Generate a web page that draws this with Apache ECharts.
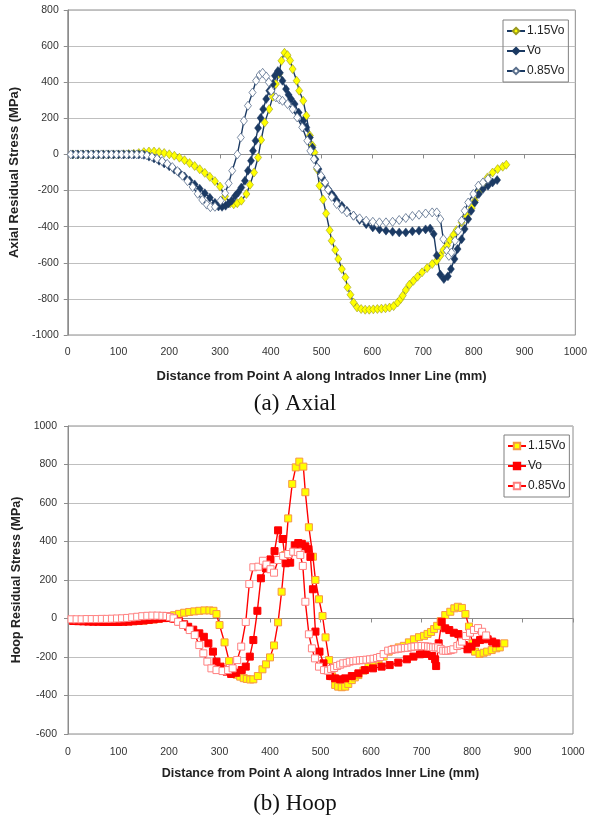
<!DOCTYPE html>
<html>
<head>
<meta charset="utf-8">
<script src="https://cdn.jsdelivr.net/npm/echarts@6/dist/echarts.min.js"></script>
<style>
  body{margin:0;background:#fff;}
  #axial{position:absolute;left:0;top:0;width:590px;height:415px;}
  #hoop{position:absolute;left:0;top:415px;width:590px;height:406px;}
</style>
</head>
<body>
<div id="axial"></div>
<div id="hoop"></div>
<script>
// legend / series names
var seriesNames = ['1.15Vo', 'Vo', '0.85Vo'];

// x axis ticks (mm)
var distTicks = [0, 1000, 100];
// y axis ticks (MPa): min, max, step
var axialTicks = [-1000, 800, 200];
var hoopTicks = [-600, 1000, 200];

// Axial residual stress, [distance mm, stress MPa]
var axial115 = [[10,0],[20,0],[30,0],[40,0],[50,0],[60,0],[70,0],[80,0],[90,0],[100,0],[110,1],[120,2],[130,4],[140,8],[150,13],[160,16],[170,16],[180,13],[190,8],[200,1],[210,-7],[220,-18],[230,-32],[240,-48],[250,-64],[260,-82],[270,-102],[280,-124],[290,-148],[300,-178],[310,-232],[320,-270],[327,-276],[334,-270],[342,-256],[352,-219],[359,-168],[367,-100],[375,-17],[381,80],[388,177],[397,251],[404,320],[410,390],[416,445],[421,519],[427,563],[433,550],[438,520],[443,473],[451,408],[456,353],[464,297],[470,214],[477,105],[482,50],[486,11],[491,-81],[496,-173],[503,-250],[509,-327],[516,-420],[520,-478],[527,-529],[533,-579],[540,-635],[547,-681],[551,-736],[557,-777],[563,-820],[570,-847],[578,-856],[586,-860],[594,-860],[602,-858],[610,-856],[618,-854],[626,-852],[634,-848],[642,-840],[650,-820],[656,-800],[660,-782],[666,-751],[673,-722],[681,-700],[689,-677],[698,-653],[708,-629],[718,-607],[727,-589],[734,-561],[740,-529],[747,-505],[753,-474],[760,-445],[766,-419],[776,-376],[786,-340],[796,-297],[802,-256],[812,-201],[818,-164],[827,-127],[837,-100],[847,-81],[857,-68],[864,-57]];
var axialVo = [[10,0],[20,0],[30,0],[40,0],[50,0],[60,0],[70,0],[80,0],[90,0],[100,0],[110,0],[120,0],[130,0],[140,0],[150,-2],[160,-12],[170,-22],[180,-35],[190,-50],[200,-66],[210,-84],[220,-102],[230,-122],[240,-144],[250,-166],[260,-190],[270,-215],[280,-240],[290,-268],[297,-288],[304,-290],[311,-284],[317,-271],[323,-256],[330,-229],[336,-210],[342,-183],[349,-146],[355,-90],[361,-35],[365,20],[370,76],[375,146],[380,202],[385,251],[391,307],[397,353],[404,390],[408,436],[414,462],[418,452],[423,408],[430,362],[435,330],[440,307],[447,279],[455,232],[464,186],[470,150],[477,94],[482,39],[488,-26],[494,-81],[501,-127],[507,-160],[513,-192],[519,-215],[524,-232],[530,-256],[540,-284],[550,-312],[563,-339],[575,-363],[588,-386],[601,-404],[614,-415],[627,-422],[640,-428],[653,-432],[666,-432],[679,-426],[692,-422],[705,-415],[714,-410],[721,-440],[727,-560],[734,-665],[741,-690],[749,-675],[755,-635],[762,-579],[768,-524],[776,-469],[782,-413],[789,-358],[795,-312],[802,-266],[810,-219],[818,-192],[828,-173],[837,-155],[846,-142]];
var axial085 = [[6,0],[16,0],[26,0],[36,0],[46,0],[56,0],[66,0],[76,0],[86,0],[96,0],[106,0],[116,0],[126,0],[136,0],[146,0],[156,-5],[166,-13],[176,-24],[186,-37],[196,-52],[206,-70],[216,-92],[226,-118],[236,-148],[246,-180],[256,-218],[265,-252],[274,-278],[281,-292],[290,-290],[301,-256],[310,-215],[317,-160],[324,-90],[334,0],[341,94],[347,186],[355,270],[364,343],[371,408],[378,440],[384,452],[391,432],[396,400],[401,353],[410,316],[417,305],[423,297],[433,279],[443,251],[452,205],[462,150],[472,76],[478,20],[485,-26],[491,-72],[499,-118],[507,-155],[513,-195],[520,-235],[530,-275],[540,-302],[550,-321],[563,-339],[575,-354],[588,-367],[601,-373],[614,-376],[627,-376],[640,-373],[653,-363],[666,-352],[679,-341],[692,-334],[705,-327],[718,-321],[727,-321],[734,-358],[740,-469],[747,-533],[751,-562],[756,-543],[763,-478],[769,-422],[776,-367],[782,-312],[789,-266],[799,-219],[809,-173],[818,-155],[828,-136]];

// Hoop residual stress, [distance mm, stress MPa]
var hoop115 = [[10,-8],[20,-10],[30,-11],[40,-12],[50,-13],[60,-14],[70,-15],[80,-15],[90,-16],[100,-16],[110,-16],[120,-15],[130,-14],[140,-13],[150,-11],[160,-8],[170,-5],[180,-1],[190,4],[200,10],[210,17],[220,24],[230,30],[240,34],[250,37],[260,40],[270,42],[280,42],[288,40],[294,23],[300,-34],[310,-124],[319,-221],[327,-276],[334,-292],[341,-302],[348,-310],[354,-314],[361,-317],[367,-316],[376,-299],[385,-264],[392,-238],[400,-202],[408,-140],[416,-20],[423,139],[430,330],[436,520],[444,699],[451,785],[458,815],[466,789],[470,656],[477,474],[485,321],[490,200],[497,100],[504,13],[510,-98],[517,-216],[523,-300],[529,-345],[535,-354],[542,-357],[549,-354],[555,-340],[562,-320],[568,-306],[575,-294],[585,-271],[595,-250],[605,-232],[615,-215],[625,-198],[635,-172],[645,-158],[655,-150],[665,-142],[675,-124],[685,-108],[695,-97],[705,-90],[712,-80],[719,-70],[725,-55],[731,-38],[738,-14],[747,18],[757,35],[765,53],[772,61],[780,55],[787,23],[794,-42],[801,-129],[806,-172],[815,-184],[823,-178],[830,-172],[839,-164],[848,-155],[855,-150],[864,-129]];
var hoopVo = [[10,-13],[20,-14],[30,-15],[40,-16],[50,-17],[60,-17],[70,-18],[80,-18],[90,-18],[100,-18],[110,-17],[120,-16],[130,-14],[140,-12],[150,-10],[160,-7],[170,-4],[180,-1],[190,2],[200,3],[210,-2],[220,-15],[230,-30],[238,-43],[248,-58],[260,-77],[269,-95],[278,-129],[287,-172],[294,-224],[302,-250],[308,-265],[314,-276],[323,-288],[333,-282],[344,-268],[352,-250],[360,-198],[367,-112],[375,40],[382,209],[392,260],[401,307],[409,350],[416,458],[425,413],[431,287],[440,290],[449,380],[456,392],[463,388],[470,375],[476,360],[480,320],[485,152],[490,-68],[498,-172],[506,-233],[511,-268],[519,-299],[529,-311],[539,-316],[549,-311],[562,-299],[575,-285],[588,-268],[604,-259],[621,-250],[637,-242],[654,-229],[671,-212],[684,-198],[697,-186],[710,-184],[721,-195],[727,-212],[729,-247],[734,-129],[740,-17],[747,-51],[755,-60],[764,-74],[773,-81],[778,-103],[784,-138],[791,-160],[799,-146],[808,-126],[816,-112],[823,-103],[831,-108],[840,-120],[848,-129]];
var hoop085 = [[7,-4],[17,-4],[27,-4],[37,-3],[47,-3],[57,-3],[67,-2],[77,-2],[87,-1],[97,0],[107,1],[117,3],[127,6],[137,9],[147,12],[157,14],[167,15],[177,15],[187,14],[195,13],[202,8],[209,1],[218,-17],[228,-34],[241,-60],[251,-86],[260,-138],[268,-181],[276,-224],[284,-259],[294,-268],[306,-273],[317,-268],[326,-259],[335,-216],[343,-146],[352,-18],[359,179],[367,266],[377,269],[386,300],[393,280],[401,256],[408,238],[416,304],[426,325],[436,335],[446,347],[455,345],[460,330],[465,273],[470,87],[477,-82],[483,-155],[489,-207],[497,-250],[507,-268],[515,-271],[521,-262],[527,-257],[533,-247],[539,-240],[545,-233],[552,-230],[558,-224],[565,-221],[571,-219],[578,-217],[584,-216],[591,-214],[598,-212],[605,-209],[612,-205],[618,-200],[625,-185],[634,-167],[641,-163],[648,-160],[654,-157],[660,-155],[667,-153],[673,-152],[680,-149],[686,-146],[693,-144],[700,-143],[707,-144],[713,-146],[718,-148],[723,-150],[728,-150],[733,-150],[738,-158],[743,-167],[748,-168],[753,-167],[758,-164],[763,-160],[771,-143],[776,-135],[780,-120],[788,-91],[796,-74],[804,-60],[812,-50],[820,-69],[828,-88]];

var FONT = 'Liberation Sans';

// plain numbers, no thousands separator (1000, -1000)
function plain(v) { return String(v); }

function makeOption(cfg) {
  return {
    animation: false,
    backgroundColor: '#fff',
    grid: {
      left: cfg.grid[0], top: cfg.grid[1], width: cfg.grid[2], height: cfg.grid[3],
      show: true, borderColor: '#8c8c8c', borderWidth: 1
    },
    legend: {
      orient: 'vertical',
      left: cfg.legendPos[0], top: cfg.legendPos[1],
      data: seriesNames,
      borderColor: '#808080', borderWidth: 1,
      padding: [5, 4, 5, 3],
      itemGap: 8, itemWidth: 18, itemHeight: 8,
      textStyle: { fontFamily: FONT, fontSize: 12, color: '#222', padding: [0, 0, 0, -3] }
    },
    xAxis: {
      type: 'value',
      min: distTicks[0], max: distTicks[1], interval: distTicks[2],
      name: 'Distance from Point A along Intrados Inner Line (mm)',
      nameLocation: 'middle', nameGap: cfg.xNameGap,
      nameTextStyle: { fontFamily: FONT, fontWeight: 'bold', fontSize: cfg.titleSize, color: '#222' },
      axisLine: { show: true, lineStyle: { color: '#8c8c8c' } },
      axisTick: { show: true, length: 4, lineStyle: { color: '#8c8c8c' } },
      axisLabel: { margin: cfg.xLabelMargin, fontFamily: FONT, fontSize: 10.5, color: '#333', formatter: plain },
      splitLine: { show: false }
    },
    yAxis: {
      type: 'value',
      min: cfg.yTicks[0], max: cfg.yTicks[1], interval: cfg.yTicks[2],
      name: cfg.yName,
      nameLocation: 'middle', nameGap: cfg.yNameGap,
      nameTextStyle: { fontFamily: FONT, fontWeight: 'bold', fontSize: cfg.titleSize, color: '#222' },
      axisLine: { show: true, lineStyle: { color: '#8c8c8c' } },
      axisTick: { show: true, length: 4, lineStyle: { color: '#8c8c8c' } },
      axisLabel: { margin: cfg.yLabelMargin, fontFamily: FONT, fontSize: 10.5, color: '#333', formatter: plain },
      splitLine: { show: true, lineStyle: { color: '#bfbfbf', width: 1 } }
    },
    graphic: [{
      type: 'text',
      left: 'center', top: cfg.captionTop,
      style: { text: cfg.caption, font: '23px "Liberation Serif"', fill: '#111' }
    }],
    series: cfg.series
  };
}

function lineSeries(name, data, symbol, size, lineColor, fill, border, bw) {
  return {
    name: name,
    type: 'line',
    data: data,
    symbol: symbol,
    symbolSize: size,
    showAllSymbol: true,
    lineStyle: { color: lineColor, width: 1.4 },
    itemStyle: { color: fill, borderColor: border, borderWidth: bw }
  };
}

var navy = '#1b3a63';
var axialChart = echarts.init(document.getElementById('axial'));
axialChart.setOption(makeOption({
  grid: [67, 10, 515, 325],
  legendPos: [503, 20],
  xNameGap: 35, xLabelMargin: 12,
  yTicks: axialTicks, yName: 'Axial Residual Stress (MPa)', yNameGap: 46, yLabelMargin: 9,
  titleSize: 13,
  caption: '(a) Axial', captionTop: 392,
  series: [
    lineSeries(seriesNames[0], axial115, 'diamond', [7, 9], navy, '#ffff00', '#9a9a20', 0.6),
    lineSeries(seriesNames[1], axialVo, 'diamond', [7, 9], navy, navy, navy, 0.5),
    lineSeries(seriesNames[2], axial085, 'diamond', [7, 9], navy, '#ffffff', '#5a6f8c', 0.8)
  ]
}));

var red = '#ff0000';
var hoopChart = echarts.init(document.getElementById('hoop'));
hoopChart.setOption(makeOption({
  grid: [68, 11, 505, 308],
  legendPos: [504, 20],
  xNameGap: 33, xLabelMargin: 13,
  yTicks: hoopTicks, yName: 'Hoop Residual Stress (MPa)', yNameGap: 42, yLabelMargin: 11,
  titleSize: 12.5,
  caption: '(b) Hoop', captionTop: 377,
  series: [
    lineSeries(seriesNames[0], hoop115, 'rect', 7, red, '#ffff00', '#f79646', 1),
    lineSeries(seriesNames[1], hoopVo, 'rect', 7, red, red, red, 1),
    lineSeries(seriesNames[2], hoop085, 'rect', 7, red, '#ffffff', '#ff8080', 1)
  ]
}));
</script>
</body>
</html>
